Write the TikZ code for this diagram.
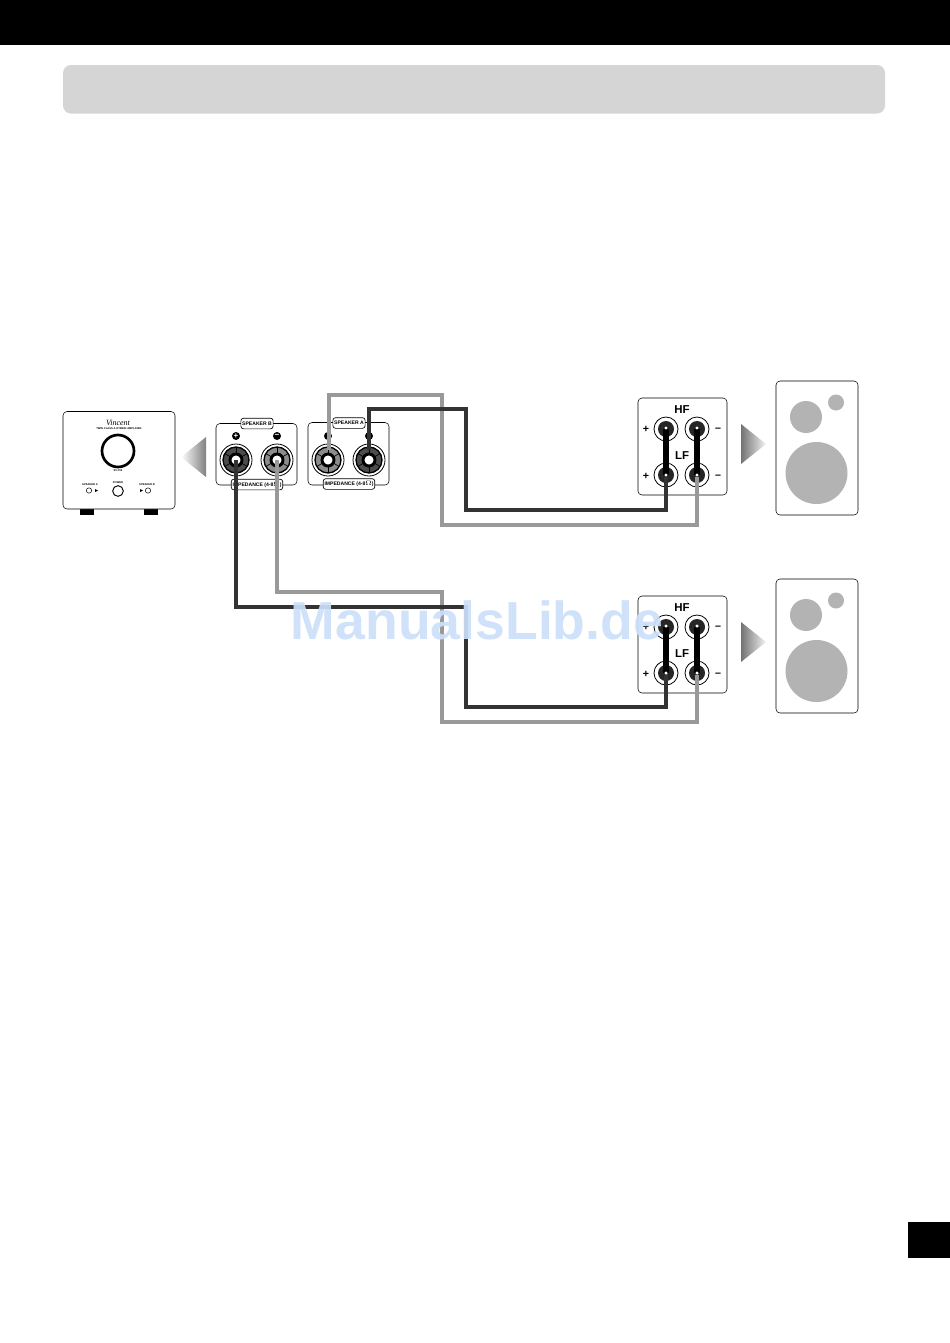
\documentclass[tikz,border=0pt]{standalone}
\usepackage{fontspec}
\setmainfont{Liberation Sans}
\newfontfamily\brandfont{Liberation Serif}
\definecolor{wiredark}{HTML}{333333}
\definecolor{wiregray}{HTML}{999999}
\definecolor{conegray}{HTML}{B3B3B3}
\definecolor{barfill}{HTML}{D5D5D5}
\definecolor{markblue}{HTML}{CCE0FA}
\tikzset{
  panel/.style={draw=black,line width=.4pt,rounded corners=3pt,fill=white},
  tag/.style={draw=black,line width=.5pt,rounded corners=2pt,fill=white,font=\bfseries\fontsize{3.8}{4}\selectfont,inner sep=1pt,minimum height=8pt},
  wirea/.style={draw=wiredark,line width=3.6pt,miter limit=10},
  wireb/.style={draw=wiregray,line width=3.6pt,miter limit=10},
  jumper/.style={draw=black,line width=5pt},
  cone/.style={circle,fill=conegray,inner sep=0pt,minimum size=#1},
  lug/.style={circle,draw=black,line width=.6pt,fill=white,inner sep=0pt,minimum size=18pt},
  lugcore/.style={circle,fill=black!85,inner sep=0pt,minimum size=12pt},
  lugdot/.style={circle,fill=white,inner sep=0pt,minimum size=2.6pt},
  ring/.style={circle,draw=black,line width=.6pt,fill=white,inner sep=0pt,minimum size=24pt},
  ringfill/.style={circle,draw=black,line width=1pt,fill=#1,inner sep=0pt,minimum size=19.5pt},
  ringcore/.style={circle,draw=black,line width=2.2pt,fill=white,inner sep=0pt,minimum size=9pt},
  sign/.style={font=\bfseries\fontsize{8}{8}\selectfont,inner sep=0pt},
  hflabel/.style={font=\bfseries\fontsize{8.6}{9}\selectfont,inner sep=0pt},
  tiny/.style={font=\bfseries\fontsize{2}{2}\selectfont,inner sep=0pt},
  pip/.style={circle,fill=black,inner sep=0pt,minimum size=6pt,text=white,font=\bfseries\fontsize{6}{6}\selectfont}
}
\begin{document}
\begin{tikzpicture}[x=.75pt,y=-.75pt]
\useasboundingbox (0,0) rectangle (950,1343);

% page furniture
\fill[black] (0,0) rectangle (950,45);
\fill[barfill,rounded corners=6pt] (63,65) rectangle (885,113.5);
\fill[black] (908,1222) rectangle (950,1258);

% amplifier
\fill[black] (80,509) rectangle (94,514.5);
\fill[black] (144,509) rectangle (158,514.5);
\draw[panel] (63,411.5) rectangle (175,509);
\node[font=\brandfont\itshape\fontsize{6}{6}\selectfont,inner sep=0pt] (brand) at (118,422.5) {Vincent};
\node[tiny] (model) at (119,428.5) {TWIN CLASS A HYBRID AMPLIFIER};
\node[circle,draw=black,line width=2pt,fill=white,minimum size=24pt,inner sep=0pt] (volume) at (118,451) {};
\node[tiny] (svname) at (118,470.5) {SV-700};
\node[tiny] (powername) at (118,483) {POWER};
\node[circle,draw=black,line width=.7pt,fill=white,minimum size=8pt,inner sep=0pt] (power) at (118,491) {};
\node[tiny] (spkleft) at (90,485) {SPEAKER A};
\node[circle,draw=black,line width=.4pt,minimum size=4pt,inner sep=0pt] (ledleft) at (89,490.5) {};
\fill[black] (95,489) -- (98,490.5) -- (95,492) -- cycle;
\node[tiny] (spkright) at (147,485) {SPEAKER B};
\node[circle,draw=black,line width=.4pt,minimum size=4pt,inner sep=0pt] (ledright) at (148,490.5) {};
\fill[black] (140,489) -- (143,490.5) -- (140,492) -- cycle;

% arrows
\shade[left color=white,right color=black!50] (181,457) -- (206,437) -- (206,477) -- cycle;
\foreach \dy in {0,198}{
  \shade[left color=black!55,right color=black!5] (741,424+\dy) -- (766,444+\dy) -- (741,464+\dy) -- cycle;
}

% amp terminals
\draw[panel] (216,423.5) rectangle (297,485);
\draw[panel] (308,422.5) rectangle (389,485);
\node[tag] (tagb) at (257,423.5) {SPEAKER B};
\node[tag] (taga) at (349,423) {SPEAKER A};
\node[pip] (pipbp) at (236,436) {+};
\node[pip] (pipbm) at (277,436) {−};
\node[pip] (pipap) at (328,436) {};
\node[pip] (pipam) at (369,436) {};
\node[tag] (impb) at (257,484.5) {IMPEDANCE (4-8$\Omega$)};
\node[tag] (impa) at (349,484) {IMPEDANCE (4-8$\Omega$)};
\foreach \nm/\px/\tone in {bp/236/black!70,bm/277/black!45,ap/328/black!45,am/369/black!70}{
  \node[ring] (out\nm) at (\px,460) {};
  \node[ringfill=\tone] at (\px,460) {};
  \foreach \a in {30,90,...,330}
    \draw[black,line width=.5pt] (\px,460) ++(\a:7) -- ++(\a:6);
  \node[ringcore] (post\nm) at (\px,460) {};
}

% speakers
\foreach \n/\dy in {a/0,b/198}{
  \draw[panel] (776,381+\dy) rectangle (858,515+\dy);
  \node[cone=12pt] (tweet\n) at (836,402.5+\dy) {};
  \node[cone=24pt] (mid\n) at (806,417+\dy) {};
  \node[cone=46.5pt] (woof\n) at (816.5,473+\dy) {};
  \draw[panel] (638,398+\dy) rectangle (727,495+\dy);
  \node[hflabel] (hf\n) at (682,409.5+\dy) {HF};
  \node[hflabel] (lf\n) at (682,455.5+\dy) {LF};
  \node[sign] at (646,429.5+\dy) {+};
  \node[sign] at (646,476+\dy) {+};
  \node[sign] at (718,430+\dy) {–};
  \node[sign] at (718,476.5+\dy) {–};
  \foreach \t/\px/\py in {hp/666/429,hm/697/429,lp/666/475,lm/697/475}{
    \node[lug] (\t out\n) at (\px,\py+\dy) {};
    \node[lugcore] (\t\n) at (\px,\py+\dy) {};
  }
  \draw[jumper] (hp\n.center) -- (lp\n.center);
  \draw[jumper] (hm\n.center) -- (lm\n.center);
  \foreach \px/\py in {666/428,697/428,666/475,697/475}
    \node[lugdot] at (\px,\py+\dy) {};
}

% wires
\coordinate (endap) at (329,450);
\coordinate (endam) at (369,450);
\draw[wireb] (endap) |- (442,395) -- (442,525) -| ([yshift=-1.5pt]lma.center);
\draw[wirea] (endam) |- (466,409) -- (466,510) -| ([yshift=-1.5pt]lpa.center);
\draw[wireb] (postbm.center) |- (442,592) -- (442,722) -| ([yshift=-1.5pt]lmb.center);
\draw[wirea] (postbp.center) |- (466,607) -- (466,707) -| ([yshift=-1.5pt]lpb.center);

% watermark
\node[text=markblue,opacity=.92,font=\bfseries\fontsize{40.2}{41}\selectfont,inner sep=0pt] (mark) at (477,620) {ManualsLib.de};
\end{tikzpicture}
\end{document}
